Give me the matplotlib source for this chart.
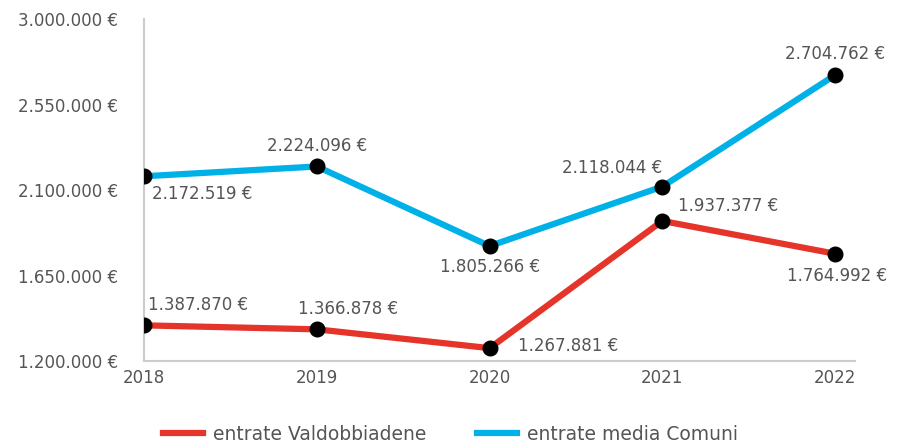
import matplotlib.pyplot as plt

years = [2018, 2019, 2020, 2021, 2022]
valdobbiadene = [1387870, 1366878, 1267881, 1937377, 1764992]
media_comuni = [2172519, 2224096, 1805266, 2118044, 2704762]
y_ticks = [1200000, 1650000, 2100000, 2550000, 3000000]

red = '#e5352a'
blue = '#00b1e7'
grey = '#555555'

def eur(v):
    return f"{v:,}".replace(',', '.') + " €"

fig = plt.figure(figsize=(9.01, 4.43), dpi=100)
ax = fig.add_axes([0.16, 0.185, 0.789, 0.772])

ax.plot(years, valdobbiadene, color=red, lw=4.5, label='entrate Valdobbiadene', zorder=2)
ax.plot(years, media_comuni, color=blue, lw=4.5, label='entrate media Comuni', zorder=2)
ax.plot(years, valdobbiadene, 'o', color='black', ms=10.5, zorder=3)
ax.plot(years, media_comuni, 'o', color='black', ms=10.5, zorder=3)

# label offsets in pixels (dx, dy, ha)
blue_off = [(8, -18, 'left'), (0, 20, 'center'), (0, -21, 'center'), (-50, 19, 'center'), (0, 21, 'center')]
red_off = [(4, 20, 'left'), (31, 20, 'center'), (28, 2, 'left'), (16, 15, 'left'), (2, -22, 'center')]

for x, v, (dx, dy, ha) in zip(years, media_comuni, blue_off):
    ax.annotate(eur(v), (x, v), xytext=(dx, dy), textcoords='offset pixels',
                ha=ha, va='center', fontsize=12, color=grey)
for x, v, (dx, dy, ha) in zip(years, valdobbiadene, red_off):
    ax.annotate(eur(v), (x, v), xytext=(dx, dy), textcoords='offset pixels',
                ha=ha, va='center', fontsize=12, color=grey)

ax.set_xlim(2018, 2022.116)
ax.set_ylim(1200000, 3000000)
ax.set_xticks(years)
ax.set_xticklabels([str(y) for y in years])
ax.set_yticks(y_ticks)
ax.set_yticklabels([eur(v) for v in y_ticks])
ax.tick_params(axis='y', length=0, pad=19, labelsize=12, labelcolor=grey)
ax.tick_params(axis='x', length=0, pad=6, labelsize=12, labelcolor=grey)

for s in ['top', 'right']:
    ax.spines[s].set_visible(False)
for s in ['left', 'bottom']:
    ax.spines[s].set_color('#cccccc')
    ax.spines[s].set_linewidth(1.5)

leg = fig.legend(loc='lower center', bbox_to_anchor=(0.5, -0.04), ncol=2, frameon=False,
                 fontsize=13.5, handlelength=2.13, handletextpad=0.53, columnspacing=2.67)
for t in leg.get_texts():
    t.set_color(grey)

fig.savefig('out.png', dpi=100)
